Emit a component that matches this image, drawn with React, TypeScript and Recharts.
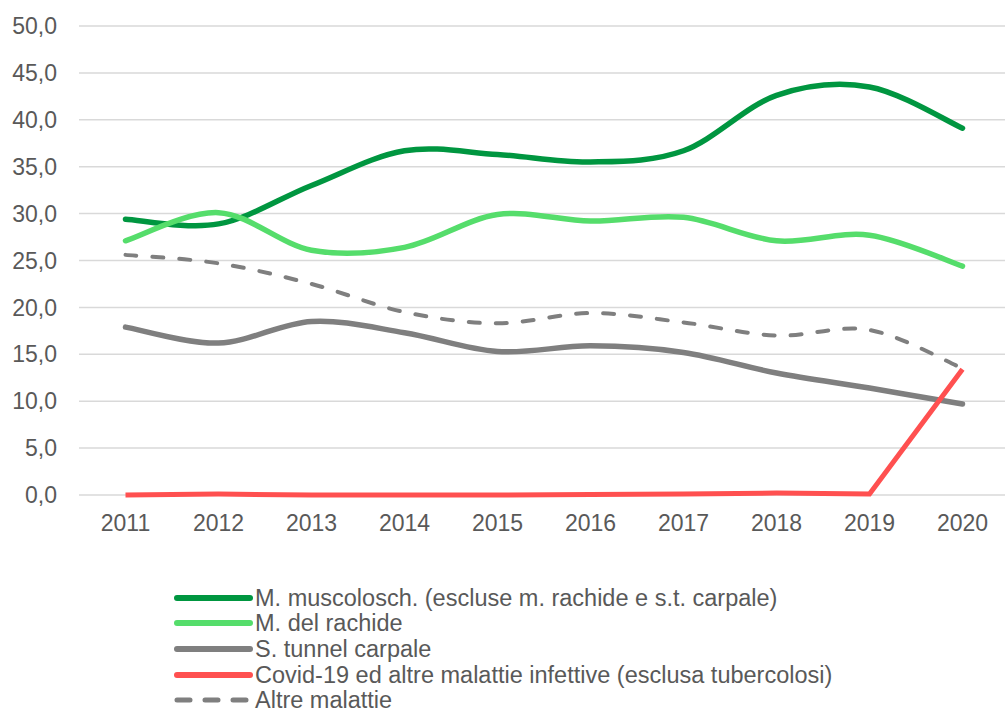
import React from 'react';
import { LineChart, Line, XAxis, YAxis, CartesianGrid, Legend } from 'recharts';

const years = ['2011', '2012', '2013', '2014', '2015', '2016', '2017', '2018', '2019', '2020'];
const muscolosch = [29.4, 28.9, 33.0, 36.7, 36.3, 35.5, 36.7, 42.6, 43.5, 39.1];
const rachide = [27.1, 30.1, 26.1, 26.4, 29.9, 29.2, 29.6, 27.1, 27.7, 24.4];
const tunnel = [17.9, 16.2, 18.5, 17.3, 15.3, 15.9, 15.2, 13.0, 11.4, 9.7];
const covid = [0.0, 0.1, 0.0, 0.0, 0.0, 0.05, 0.1, 0.2, 0.1, 13.4];
const altre = [25.6, 24.7, 22.5, 19.5, 18.3, 19.4, 18.4, 17.0, 17.6, 13.5];
const yTicks = [0, 5, 10, 15, 20, 25, 30, 35, 40, 45, 50];

const seriesNames = {
  muscolosch: 'M. muscolosch. (escluse m. rachide e s.t. carpale)',
  rachide: 'M. del rachide',
  tunnel: 'S. tunnel carpale',
  covid: 'Covid-19 ed altre malattie infettive (esclusa tubercolosi)',
  altre: 'Altre malattie',
};

const data = years.map((y, i) => ({
  year: y,
  muscolosch: muscolosch[i],
  rachide: rachide[i],
  tunnel: tunnel[i],
  covid: covid[i],
  altre: altre[i],
}));

const FONT = '"Liberation Sans", Arial, sans-serif';
const TEXT = '#595959';

// Excel-like smoothing (uniform Catmull-Rom as cubic Bezier)
function excelSmooth(context: any) {
  let pts: [number, number][] = [];
  return {
    areaStart() {},
    areaEnd() {},
    lineStart() {
      pts = [];
    },
    point(x: number, y: number) {
      pts.push([+x, +y]);
    },
    lineEnd() {
      const n = pts.length;
      if (n === 0) return;
      context.moveTo(pts[0][0], pts[0][1]);
      if (n === 1) return;
      for (let i = 0; i < n - 1; i++) {
        const p0 = pts[i === 0 ? 0 : i - 1];
        const p1 = pts[i];
        const p2 = pts[i + 1];
        const p3 = pts[i + 2 < n ? i + 2 : n - 1];
        context.bezierCurveTo(
          p1[0] + (p2[0] - p0[0]) / 6,
          p1[1] + (p2[1] - p0[1]) / 6,
          p2[0] - (p3[0] - p1[0]) / 6,
          p2[1] - (p3[1] - p1[1]) / 6,
          p2[0],
          p2[1]
        );
      }
    },
  };
}

const legendItems = [
  { name: seriesNames.muscolosch, color: '#009640', dash: undefined as string | undefined },
  { name: seriesNames.rachide, color: '#55dd6b', dash: undefined },
  { name: seriesNames.tunnel, color: '#7f7f7f', dash: undefined },
  { name: seriesNames.covid, color: '#ff5050', dash: undefined },
  { name: seriesNames.altre, color: '#7f7f7f', dash: '13 15' },
];

const renderLegend = () => (
  <div style={{ fontFamily: FONT, fontSize: 23.5, color: TEXT }}>
    {legendItems.map((it) => (
      <div key={it.name} style={{ display: 'flex', alignItems: 'center', height: 25.6, whiteSpace: 'nowrap' }}>
        <svg width={81} height={10} style={{ flex: 'none' }}>
          <line
            x1={3}
            x2={76}
            y1={5}
            y2={5}
            stroke={it.color}
            strokeWidth={it.dash ? 5 : 6}
            strokeLinecap="round"
            strokeDasharray={it.dash}
          />
        </svg>
        <span style={{ lineHeight: '18px' }}>{it.name}</span>
      </div>
    ))}
  </div>
);

const fmt = (v: number) => v.toFixed(1).replace('.', ',');

export default function App() {
  return (
    <div style={{ position: 'absolute', left: 0, top: 0, width: 1005, height: 714, background: '#fff' }}>
      <LineChart
        width={1005}
        height={714}
        data={data}
        margin={{ top: 26, right: -4, bottom: 179, left: 0 }}
      >
        <CartesianGrid vertical={false} stroke="#d9d9d9" strokeWidth={1.5} />
        <XAxis
          dataKey="year"
          axisLine={false}
          tickLine={false}
          tickSize={0}
          tickMargin={20}
          height={40}
          interval={0}
          padding={{ left: 46.5, right: 46.5 }}
          tick={{ fill: TEXT, fontSize: 23, fontFamily: FONT }}
        />
        <YAxis
          domain={[0, 50]}
          ticks={yTicks}
          width={79}
          axisLine={false}
          tickLine={false}
          tickSize={0}
          tickMargin={22}
          tickFormatter={fmt}
          tick={{ fill: TEXT, fontSize: 23, fontFamily: FONT }}
        />
        <Legend
          layout="horizontal"
          verticalAlign="middle"
          align="center"
          wrapperStyle={{ top: 585, left: 174, width: 800 }}
          content={renderLegend}
        />
        <Line
          dataKey="muscolosch"
          name={seriesNames.muscolosch}
          type={excelSmooth as any}
          stroke="#009640"
          strokeWidth={5.5}
          strokeLinecap="round"
          dot={false}
          activeDot={false}
          isAnimationActive={false}
        />
        <Line
          dataKey="rachide"
          name={seriesNames.rachide}
          type={excelSmooth as any}
          stroke="#55dd6b"
          strokeWidth={5.5}
          strokeLinecap="round"
          dot={false}
          activeDot={false}
          isAnimationActive={false}
        />
        <Line
          dataKey="tunnel"
          name={seriesNames.tunnel}
          type={excelSmooth as any}
          stroke="#7f7f7f"
          strokeWidth={5.5}
          strokeLinecap="round"
          dot={false}
          activeDot={false}
          isAnimationActive={false}
        />
        <Line
          dataKey="covid"
          name={seriesNames.covid}
          type="linear"
          stroke="#ff5050"
          strokeWidth={5}
          dot={false}
          activeDot={false}
          isAnimationActive={false}
        />
        <Line
          dataKey="altre"
          name={seriesNames.altre}
          type={excelSmooth as any}
          stroke="#7f7f7f"
          strokeWidth={4}
          strokeDasharray="11 16"
          strokeLinecap="round"
          dot={false}
          activeDot={false}
          isAnimationActive={false}
        />
      </LineChart>
    </div>
  );
}
